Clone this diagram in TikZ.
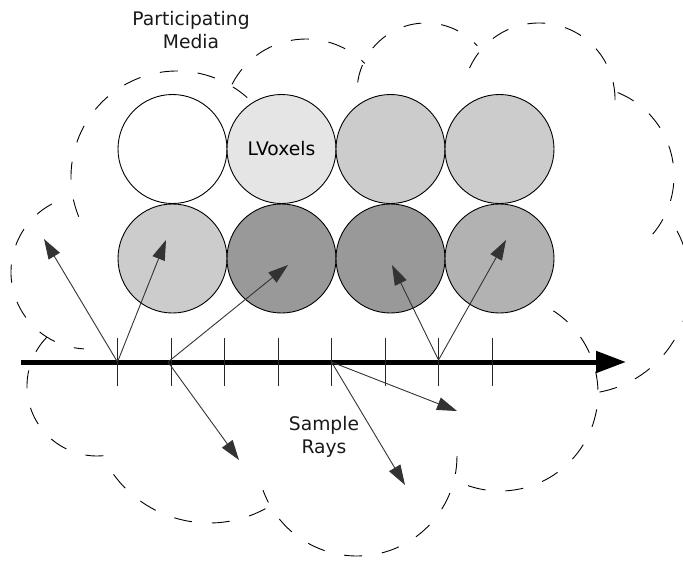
\documentclass[tikz,border=0pt]{standalone}
\usepackage{fontspec}
\setmainfont{DejaVu Sans}
\usetikzlibrary{arrows.meta}
\tikzset{
  cloudline/.style={draw=black, line width=0.9pt, dash pattern=on 18pt off 20pt},
  vox/.style={circle, draw=black, line width=0.9pt, minimum size=109pt, inner sep=0pt},
  raystyle/.style={draw=black!80, line width=0.9pt, -{Triangle[length=20pt,width=13pt]}},
  tickstyle/.style={draw=black!85, line width=0.9pt},
  axisstyle/.style={draw=black, line width=5pt, -{Triangle[length=30pt,width=21pt]}},
  lbl/.style={align=center, font=\fontsize{18.7}{22.6}\selectfont, text=black!90, inner sep=0pt}
}
\newcommand\cloudarc[4]{\draw[cloudline] (#1) ++(#2:#4) arc[start angle=#2, end angle=#3, radius=#4];}
\begin{document}
\begin{tikzpicture}[x=1pt, y=-1pt]
\useasboundingbox (0,0) rectangle (683,563);
\clip (0,0) rectangle (683,563);
% cloud arc centres
\coordinate (ck) at (88,272);
\coordinate (ca) at (177,177);
\coordinate (cb) at (306,122);
\coordinate (cc) at (426,92);
\coordinate (cd) at (539,99);
\coordinate (ce) at (584,176);
\coordinate (cf) at (579,283);
\coordinate (cg) at (500,393);
\coordinate (ch) at (357,456);
\coordinate (ci) at (209,405);
\coordinate (cj) at (97,386);
\cloudarc{ck}{242}{93}{77}
\cloudarc{ca}{158}{312}{106}
\cloudarc{cb}{207}{315}{83}
\cloudarc{cc}{188}{318}{69}
\cloudarc{cd}{204}{365}{76}
\cloudarc{ce}{-68}{48}{90}
\cloudarc{cf}{-28}{80}{111}
\cloudarc{cg}{-57}{116}{98}
\cloudarc{ch}{0}{160}{100}
\cloudarc{ci}{144}{59}{118}
\cloudarc{cj}{224}{71}{70}
% LVoxels
\node[vox, fill=white]      (v11) at (172.5,149) {};
\node[vox, fill=black!10, font=\fontsize{18.7}{22.6}\selectfont] (v12) at (281.5,149) {LVoxels};
\node[vox, fill=black!20]   (v13) at (390.5,149) {};
\node[vox, fill=black!20]   (v14) at (499.5,149) {};
\node[vox, fill=black!20]   (v21) at (172.5,258.5) {};
\node[vox, fill=black!40]   (v22) at (281.5,258.5) {};
\node[vox, fill=black!40]   (v23) at (390.5,258.5) {};
\node[vox, fill=black!30]   (v24) at (499.5,258.5) {};
% axis
\coordinate (axs) at (21,362);
\coordinate (axe) at (626,362);
\draw[axisstyle] (axs) -- (axe);
\foreach \x in {117.5,171,224.5,278,331.5,385,438.5,492}{
  \draw[tickstyle] (\x,338) -- (\x,386);
}
% ray origins and ends
\coordinate (o1) at (117.5,362);
\coordinate (o2) at (168,362);
\coordinate (o3) at (331.5,362);
\coordinate (o4) at (438.5,360);
\coordinate (t1) at (44,239);
\coordinate (t2) at (166,240);
\coordinate (t3) at (288,265);
\coordinate (t4) at (239,460);
\coordinate (t5) at (457,411);
\coordinate (t6) at (405,485);
\coordinate (t7) at (392,265);
\coordinate (t8) at (506,240);
\draw[raystyle] (o1) -- (t1);
\draw[raystyle] (o1) -- (t2);
\draw[raystyle] (o2) -- (t3);
\draw[raystyle] (o2) -- (t4);
\draw[raystyle] (o3) -- (t5);
\draw[raystyle] (o3) -- (t6);
\draw[raystyle] (o4) -- (t7);
\draw[raystyle] (o4) -- (t8);
% labels
\node[lbl] (pm) at (191,30) {Participating\\Media};
\node[lbl] (sr) at (324,437) {Sample\\Rays};
\end{tikzpicture}
\end{document}
